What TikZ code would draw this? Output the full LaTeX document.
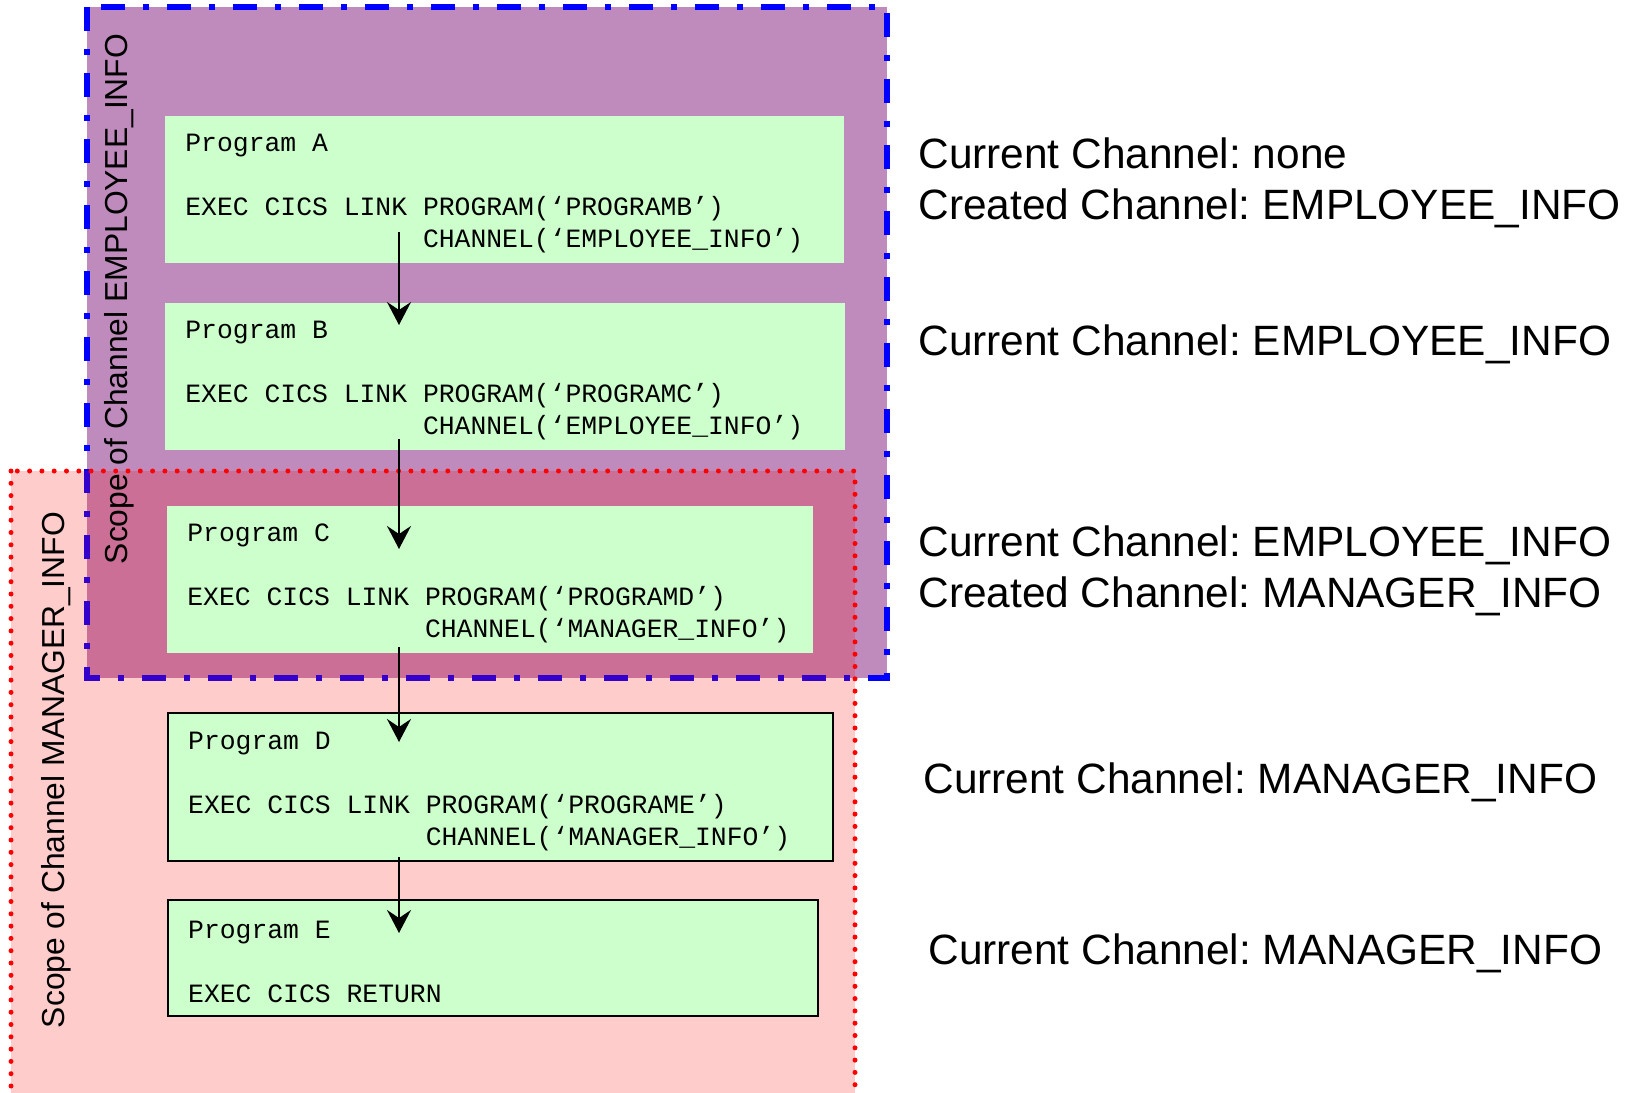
\documentclass[tikz,border=0pt]{standalone}
\usepackage{fontspec}
\setmainfont{Liberation Sans}
\setmonofont{Liberation Mono}
\usetikzlibrary{arrows.meta}
\definecolor{empscope}{RGB}{191,139,189}
\definecolor{progbg}{RGB}{204,255,204}
\frenchspacing
\protected\def\progfont{\ttfamily\fontsize{13.2pt}{16pt}\selectfont}

\begin{document}
\begin{tikzpicture}[x=0.5pt,y=-0.5pt]
\tikzstyle{every node}+=[inner sep=0pt]
\tikzstyle{prog}=[fill=progbg, anchor=north west, inner xsep=10pt, align=flush left, font=\progfont, execute at begin node={\spaceskip=0.6em\relax\rule{0pt}{12.6pt}}]
\tikzstyle{progline}=[prog, draw=black, line width=1.2pt]
\tikzstyle{scopelbl}=[rotate=90, font=\fontsize{15.9pt}{19pt}\selectfont]
\tikzstyle{chan}=[anchor=west, align=left, font=\fontsize{21.2pt}{25.5pt}\selectfont]
\tikzstyle{flow}=[line width=1pt, -{Stealth[length=11.5pt,width=12pt,inset=4pt]}]
\useasboundingbox (0,0) rectangle (1629,1093);
\draw[fill=empscope, draw=blue, line width=3pt, dash pattern=on 12pt off 9pt on 3pt off 9pt] (87,7) rectangle (887,678);
\draw[fill=red, fill opacity=0.2, draw=red, line width=2.5pt, line cap=round, dash pattern=on 0pt off 6.15pt] (11,471) rectangle (855,1100);
\draw (119,299) node[scopelbl] (empLbl) {Scope of Channel EMPLOYEE\_INFO};
\draw (56,770) node[scopelbl] (mgrLbl) {Scope of Channel MANAGER\_INFO};
\draw (165,116) node[prog, text width=319.5pt, minimum height=73.5pt] (progA) {Program A\\[16pt]EXEC CICS LINK PROGRAM(‘PROGRAMB’)\\\hphantom{EXEC CICS LINK }CHANNEL(‘EMPLOYEE\_INFO’)};
\draw (165,303) node[prog, text width=320pt, minimum height=73.5pt] (progB) {Program B\\[16pt]EXEC CICS LINK PROGRAM(‘PROGRAMC’)\\\hphantom{EXEC CICS LINK }CHANNEL(‘EMPLOYEE\_INFO’)};
\draw (167,506) node[prog, text width=303pt, minimum height=73.5pt] (progC) {Program C\\[16pt]EXEC CICS LINK PROGRAM(‘PROGRAMD’)\\\hphantom{EXEC CICS LINK }CHANNEL(‘MANAGER\_INFO’)};
\draw (167,712) node[progline, text width=312.5pt, minimum height=74pt] (progD) {Program D\\[16pt]EXEC CICS LINK PROGRAM(‘PROGRAME’)\\\hphantom{EXEC CICS LINK }CHANNEL(‘MANAGER\_INFO’)};
\draw (167,899) node[progline, text width=305pt, minimum height=58pt] (progE) {Program E\\[16pt]EXEC CICS RETURN};
\draw[flow] ([xshift=117pt,yshift=16pt]progA.south west) -- ([xshift=117pt,yshift=-11pt]progB.north west);
\draw[flow] ([xshift=117pt,yshift=6pt]progB.south west) -- ([xshift=116pt,yshift=-21.5pt]progC.north west);
\draw[flow] ([xshift=116pt,yshift=3.5pt]progC.south west) -- ([xshift=116pt,yshift=-15pt]progD.north west);
\draw[flow] ([xshift=116pt,yshift=2.5pt]progD.south west) -- ([xshift=116pt,yshift=-17pt]progE.north west);
\draw (918,183) node[chan] (chanA) {Current Channel: none\\Created Channel: EMPLOYEE\_INFO};
\draw (918,344) node[chan] (chanB) {Current Channel: EMPLOYEE\_INFO};
\draw (918,571) node[chan] (chanC) {Current Channel: EMPLOYEE\_INFO\\Created Channel: MANAGER\_INFO};
\draw (923,782) node[chan] (chanD) {Current Channel: MANAGER\_INFO};
\draw (928,953) node[chan] (chanE) {Current Channel: MANAGER\_INFO};
\end{tikzpicture}
\end{document}
